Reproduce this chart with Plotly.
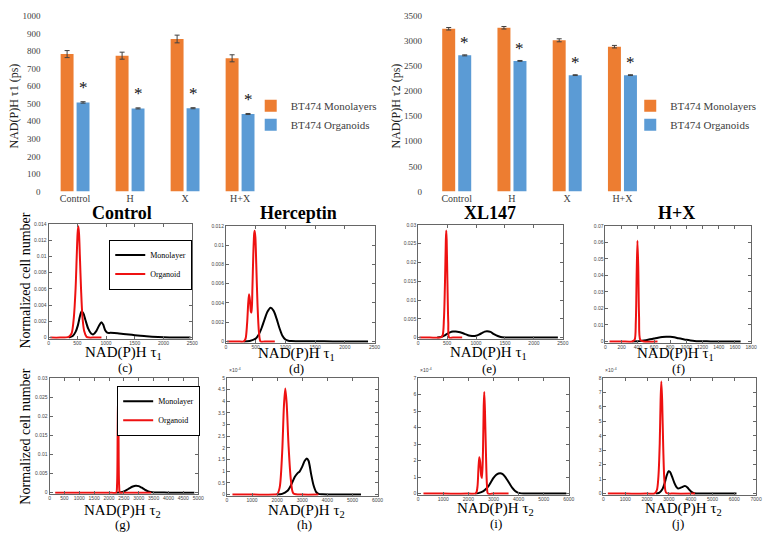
import plotly.graph_objects as go

W, H = 773, 541

# ---------------- bar-chart data ----------------
groups = ["Control", "H", "X", "H+X"]
tau1_mono = [782, 773, 868, 758]
tau1_mono_err = [20, 20, 22, 20]
tau1_org = [507, 473, 474, 441]
tau1_org_err = [4, 3, 3, 3]
tau2_mono = [3242, 3262, 3012, 2885]
tau2_mono_err = [25, 25, 30, 25]
tau2_org = [2712, 2602, 2318, 2318]
tau2_org_err = [10, 8, 8, 8]

# ---------------- distribution curves ----------------
# (c) Control, tau1
c_mono_x = [350, 420, 470, 510, 545, 575, 605, 640, 690, 740, 780, 830, 880, 920, 950, 985, 1020, 1080, 1200, 1300, 1400, 1500, 1600, 1700, 1800, 2000, 2200, 2470]
c_mono_y = [0, 0.0002, 0.0007, 0.0015, 0.0026, 0.0032, 0.0030, 0.0022, 0.0011, 0.0005, 0.0004, 0.0008, 0.0015, 0.0019, 0.0016, 0.0009, 0.0006, 0.00058, 0.00052, 0.00045, 0.00038, 0.0003, 0.00022, 0.00015, 0.0001, 0.00004, 0.00001, 0]
c_org_x = [30, 200, 350, 400, 440, 470, 490, 505, 517, 530, 545, 565, 590, 620, 660, 700, 800, 920]
c_org_y = [0, 0, 0.0001, 0.0005, 0.0025, 0.006, 0.0100, 0.0128, 0.0137, 0.0128, 0.0100, 0.006, 0.0025, 0.0008, 0.0001, 0, 0, 0]

# (d) Herceptin, tau1
d_mono_x = [300, 400, 500, 550, 600, 650, 700, 750, 800, 850, 900, 950, 1000, 1050, 1100, 1200, 1500, 1800, 2100, 2390]
d_mono_y = [0, 0.00005, 0.0003, 0.0007, 0.0014, 0.0023, 0.0031, 0.0035, 0.0032, 0.0024, 0.0014, 0.0006, 0.0002, 0.00007, 0.00004, 0.00003, 0.00002, 0.00001, 0.00001, 0]
d_org_x = [20, 200, 300, 330, 355, 375, 389, 405, 420, 430, 445, 460, 475, 483, 495, 510, 530, 555, 583, 650, 822]
d_org_y = [0, 0, 0, 0.0003, 0.0018, 0.0040, 0.0049, 0.0042, 0.0031, 0.0030, 0.0055, 0.0090, 0.0112, 0.0115, 0.0108, 0.0080, 0.0040, 0.0010, 0, 0, 0]

# (e) XL147, tau1
e_mono_x = [330, 400, 450, 500, 550, 600, 650, 700, 750, 800, 850, 900, 950, 1000, 1050, 1100, 1150, 1190, 1250, 1300, 1350, 1400, 1450, 1500, 1600, 1800, 2000, 2200, 2414]
e_mono_y = [0, 0.0002, 0.0005, 0.0010, 0.0014, 0.0016, 0.0016, 0.0015, 0.0013, 0.0010, 0.0007, 0.0005, 0.0004, 0.0005, 0.0008, 0.0012, 0.0016, 0.0017, 0.0015, 0.0010, 0.0006, 0.0003, 0.0001, 0.00005, 0.00002, 0.00001, 0, 0, 0]
e_org_x = [20, 200, 380, 420, 445, 465, 478, 485, 492, 505, 520, 535, 600, 760]
e_org_y = [0, 0, 0, 0.0005, 0.005, 0.016, 0.026, 0.0285, 0.026, 0.015, 0.004, 0, 0, 0]

# (f) H+X, tau1
f_mono_x = [330, 400, 450, 500, 550, 600, 650, 700, 750, 800, 850, 900, 950, 1000, 1050, 1100, 1150, 1200, 1300, 1400, 1500, 1670]
f_mono_y = [0, 0.0001, 0.0004, 0.0008, 0.0013, 0.0018, 0.0023, 0.0027, 0.0029, 0.0028, 0.0025, 0.0020, 0.0015, 0.0010, 0.0006, 0.0003, 0.00015, 0.0001, 0.00005, 0.00003, 0.00002, 0]
f_org_x = [50, 200, 330, 360, 375, 385, 395, 405, 415, 430, 470, 643]
f_org_y = [0, 0, 0, 0.001, 0.012, 0.040, 0.061, 0.045, 0.015, 0.001, 0, 0]

# (g) Control, tau2
g_mono_x = [2250, 2400, 2500, 2600, 2700, 2800, 2900, 3000, 3100, 3200, 3300, 3400, 3500, 3700, 4000, 4400, 4870]
g_mono_y = [0, 0.0001, 0.0003, 0.0007, 0.0012, 0.0016, 0.0018, 0.0017, 0.0013, 0.0008, 0.0004, 0.00015, 0.00005, 0.00002, 0, 0, 0]
g_org_x = [190, 1000, 2000, 2240, 2270, 2290, 2305, 2320, 2340, 2370, 2500, 3420]
g_org_y = [0, 0, 0, 0, 0.002, 0.015, 0.026, 0.015, 0.002, 0, 0, 0]

# (h) Herceptin, tau2  (values in units of 1e-4)
h_mono_x = [2000, 2200, 2400, 2550, 2700, 2800, 2900, 3000, 3100, 3180, 3250, 3350, 3450, 3550, 3650, 3800, 4200, 4800, 5340]
h_mono_y = [0, 0.03, 0.15, 0.4, 0.75, 0.9, 1.0, 1.2, 1.45, 1.55, 1.45, 0.9, 0.4, 0.12, 0.03, 0.01, 0, 0, 0]
h_org_x = [220, 1000, 1900, 2000, 2100, 2200, 2270, 2324, 2380, 2450, 2550, 2650, 3000, 3640]
h_org_y = [0, 0, 0, 0.02, 0.3, 1.8, 3.8, 4.55, 3.9, 2.2, 0.6, 0.05, 0, 0]

# (i) XL147, tau2  (units of 1e-4)
i_mono_x = [2270, 2400, 2600, 2800, 2900, 3000, 3100, 3200, 3270, 3350, 3450, 3550, 3650, 3750, 3850, 3950, 4050, 4200, 4500, 5000, 5900]
i_mono_y = [0, 0.03, 0.15, 0.45, 0.7, 0.95, 1.13, 1.22, 1.24, 1.2, 1.05, 0.82, 0.58, 0.35, 0.18, 0.08, 0.03, 0.01, 0, 0, 0]
i_org_x = [210, 1000, 2000, 2300, 2360, 2400, 2434, 2470, 2510, 2540, 2580, 2610, 2632, 2660, 2700, 2740, 2780, 3000, 3600]
i_org_y = [0, 0, 0, 0.02, 0.4, 1.5, 2.2, 1.9, 1.1, 0.95, 2.5, 5.3, 6.15, 5.0, 2.4, 0.5, 0, 0, 0]

# (j) H+X, tau2  (units of 1e-4)
j_mono_x = [2400, 2550, 2700, 2800, 2900, 2985, 3050, 3150, 3250, 3350, 3420, 3500, 3600, 3700, 3760, 3850, 3950, 4050, 4150, 4300, 4600, 5000, 5500, 6100]
j_mono_y = [0, 0.05, 0.3, 0.7, 1.25, 1.55, 1.5, 1.15, 0.75, 0.45, 0.36, 0.38, 0.45, 0.52, 0.52, 0.42, 0.25, 0.1, 0.03, 0.01, 0, 0, 0, 0]
j_org_x = [200, 1000, 2000, 2350, 2450, 2520, 2580, 2620, 2652, 2690, 2740, 2800, 2880, 3200, 4200]
j_org_y = [0, 0, 0, 0.02, 0.25, 1.2, 3.5, 6.5, 7.75, 6.5, 3.2, 0.8, 0.05, 0, 0]

panel_titles = ["Control", "Herceptin", "XL147", "H+X"]
panel_letters = ["(c)", "(d)", "(e)", "(f)", "(g)", "(h)", "(i)", "(j)"]

# ---------------- layout helpers ----------------
SERIF = "Liberation Serif, Times New Roman, DejaVu Serif, serif"
SANS = "Liberation Sans, Arial, sans-serif"
ORANGE = "#ED7D31"
BLUE = "#5B9BD5"


def dom_x(a, b):
    return [a / W, b / W]


def dom_y(top, bottom):
    return [1 - bottom / H, 1 - top / H]


fig = go.Figure()
annotations = []
layout = {}

# ---------------- bar charts ----------------
bar_specs = [
    dict(mono=tau1_mono, me=tau1_mono_err, org=tau1_org, oe=tau1_org_err,
         ax="", xd=(47, 269), ymax=1000, dtick=100, legend="legend",
         title="NAD(P)H τ1 (ps)", tx=13.5, star=14, lx=252),
    dict(mono=tau2_mono, me=tau2_mono_err, org=tau2_org, oe=tau2_org_err,
         ax="2", xd=(432, 655), ymax=3500, dtick=500, legend="legend2",
         title="NAD(P)H τ2 (ps)", tx=399, star=12, lx=635),
]
for s in bar_specs:
    xa, ya = "x" + s["ax"], "y" + s["ax"]
    fig.add_trace(go.Bar(x=groups, y=s["mono"], name="BT474 Monolayers",
                         marker=dict(color=ORANGE, line=dict(width=0)),
                         error_y=dict(type="data", array=s["me"], color="#404040", thickness=1, width=2.5),
                         xaxis=xa, yaxis=ya, legend=s["legend"]))
    fig.add_trace(go.Bar(x=groups, y=s["org"], name="BT474 Organoids",
                         marker=dict(color=BLUE, line=dict(width=0)),
                         error_y=dict(type="data", array=s["oe"], color="#404040", thickness=1, width=2.5),
                         xaxis=xa, yaxis=ya, legend=s["legend"]))
    layout["xaxis" + s["ax"]] = dict(domain=dom_x(*s["xd"]), anchor=ya, type="category",
                                     showline=False, showgrid=False, zeroline=False, ticks="",
                                     tickfont=dict(family=SERIF, size=10, color="#404040"))
    layout["yaxis" + s["ax"]] = dict(domain=dom_y(11, 190), anchor=xa, range=[0, s["ymax"]],
                                     dtick=s["dtick"], showline=False, showgrid=False, zeroline=False,
                                     ticks="", ticklabelstandoff=6,
                                     tickfont=dict(family=SERIF, size=9, color="#404040"))
    layout[s["legend"]] = dict(x=s["lx"] / W, xanchor="left", y=1 - 88 / H, yanchor="top",
                               bgcolor="rgba(0,0,0,0)", borderwidth=0,
                               font=dict(family=SERIF, size=11, color="#404040"))
    annotations.append(dict(text=s["title"], x=s["tx"] / W, y=1 - 103 / H, xref="paper", yref="paper",
                            textangle=-90, showarrow=False, xanchor="center", yanchor="middle",
                            font=dict(family=SERIF, size=12, color="#222")))
    for g, v, e in zip(groups, s["org"], s["oe"]):
        annotations.append(dict(text="*", x=g, y=v + e, xref=xa, yref=ya, xshift=8, yshift=s["star"],
                                showarrow=False, yanchor="middle",
                                font=dict(family=SERIF, size=17, color="#111")))

fig.update_layout(bargap=0.42, bargroupgap=0.19)

# ---------------- distribution panels ----------------
panels = [
    dict(xd=(48, 193), yd=(223, 340), xmax=2500, xdt=500, ymax=0.014, ydt=0.002,
         mono=(c_mono_x, c_mono_y), org=(c_org_x, c_org_y), legend="legend3"),
    dict(xd=(227, 377), yd=(225, 344), xmax=2500, xdt=500, ymax=0.012, ydt=0.002,
         mono=(d_mono_x, d_mono_y), org=(d_org_x, d_org_y)),
    dict(xd=(421, 567), yd=(224, 340), xmax=2500, xdt=500, ymax=0.03, ydt=0.005,
         mono=(e_mono_x, e_mono_y), org=(e_org_x, e_org_y)),
    dict(xd=(610, 757), yd=(225, 344), xmax=1800, xdt=200, ymax=0.07, ydt=0.01,
         mono=(f_mono_x, f_mono_y), org=(f_org_x, f_org_y)),
    dict(xd=(49, 199), yd=(380, 498), xmax=5000, xdt=500, ymax=0.03, ydt=0.005,
         mono=(g_mono_x, g_mono_y), org=(g_org_x, g_org_y), legend="legend4"),
    dict(xd=(228, 380), yd=(380, 500), xmax=6000, xdt=1000, ymax=5, ydt=0.5,
         mono=(h_mono_x, h_mono_y), org=(h_org_x, h_org_y), expo=True),
    dict(xd=(421, 573), yd=(380, 499), xmax=6000, xdt=1000, ymax=7, ydt=1,
         mono=(i_mono_x, i_mono_y), org=(i_org_x, i_org_y), expo=True),
    dict(xd=(608, 762), yd=(380, 499), xmax=7000, xdt=1000, ymax=8, ydt=1,
         mono=(j_mono_x, j_mono_y), org=(j_org_x, j_org_y), expo=True),
]

tick_font = dict(family=SANS, size=5, color="#444")
for k, p in enumerate(panels):
    n = k + 3
    xa, ya = "x%d" % n, "y%d" % n
    leg = p.get("legend")
    fig.add_trace(go.Scatter(x=p["mono"][0], y=p["mono"][1], mode="lines", name="Monolayer",
                             line=dict(color="black", width=2, shape="spline", smoothing=0.8),
                             xaxis=xa, yaxis=ya, showlegend=bool(leg), legend=leg or "legend3",
                             hoverinfo="skip"))
    fig.add_trace(go.Scatter(x=p["org"][0], y=p["org"][1], mode="lines", name="Organoid",
                             line=dict(color="#EE1111", width=2, shape="spline", smoothing=0.8),
                             xaxis=xa, yaxis=ya, showlegend=bool(leg), legend=leg or "legend3",
                             hoverinfo="skip"))
    common = dict(showline=True, linecolor="#666", linewidth=1, mirror="ticks", ticks="inside",
                  ticklen=3, tickcolor="#666", tickwidth=1, showgrid=False, zeroline=False,
                  tickfont=tick_font)
    layout["xaxis%d" % n] = dict(domain=dom_x(*p["xd"]), anchor=ya, range=[0, p["xmax"]],
                                 dtick=p["xdt"], tick0=0, ticklabelstandoff=-1, **common)
    layout["yaxis%d" % n] = dict(domain=dom_y(*p["yd"]), anchor=xa,
                                 range=[-p["ymax"] * 0.01, p["ymax"]],
                                 dtick=p["ydt"], tick0=0, **common)
    if p.get("expo"):
        annotations.append(dict(text="×10<sup>-4</sup>", x=p["xd"][0] / W, y=1 - (p["yd"][0] - 3) / H,
                                xref="paper", yref="paper", xanchor="left", yanchor="bottom",
                                showarrow=False, font=dict(family=SANS, size=5, color="#444")))

# legends inside panels (c) and (g)
layout["legend3"] = dict(x=193 / W, xanchor="right", y=1 - 239 / H, yanchor="top",
                         bgcolor="white", bordercolor="black", borderwidth=1,
                         font=dict(family=SERIF, size=8, color="black"))
layout["legend4"] = dict(x=201 / W, xanchor="right", y=1 - 388 / H, yanchor="top",
                         bgcolor="white", bordercolor="black", borderwidth=1,
                         font=dict(family=SERIF, size=8, color="black"))

# ---------------- text labels ----------------
title_pos = [(122, 212), (300, 212), (493, 212), (682, 212)]
for t, (x, y) in zip(panel_titles, title_pos):
    annotations.append(dict(text="<b>%s</b>" % t, x=x / W, y=1 - y / H, xref="paper", yref="paper",
                            showarrow=False, xanchor="center", yanchor="middle",
                            font=dict(family=SERIF, size=18, color="black")))

xlab_pos = [(124, 355), (298, 356), (492, 355), (681, 356), (123, 516), (308, 516), (499, 514), (689, 514)]
letter_pos = [(125, 369), (298, 370), (492, 370), (684, 370), (123, 529), (306, 529), (500, 528), (683, 528)]
for k in range(8):
    sub = "1" if k < 4 else "2"
    x, y = xlab_pos[k]
    annotations.append(dict(text="NAD(P)H τ<sub>%s</sub>" % sub, x=x / W, y=1 - y / H, xref="paper",
                            yref="paper", showarrow=False, xanchor="center", yanchor="middle",
                            font=dict(family=SERIF, size=15, color="black")))
    x, y = letter_pos[k]
    annotations.append(dict(text=panel_letters[k], x=x / W, y=1 - y / H, xref="paper", yref="paper",
                            showarrow=False, xanchor="center", yanchor="middle",
                            font=dict(family=SERIF, size=13, color="black")))

for yc in (281, 440):
    annotations.append(dict(text="Normalized cell number", x=25 / W, y=1 - yc / H, xref="paper",
                            yref="paper", textangle=-90, showarrow=False, xanchor="center",
                            yanchor="middle", font=dict(family=SERIF, size=14, color="black")))

fig.update_layout(
    width=W, height=H, margin=dict(l=0, r=0, t=0, b=0),
    paper_bgcolor="white", plot_bgcolor="white",
    annotations=annotations, **layout,
)

fig.write_html("out.html", config={"displayModeBar": False},
               post_script="document.body.style.margin='0';")
